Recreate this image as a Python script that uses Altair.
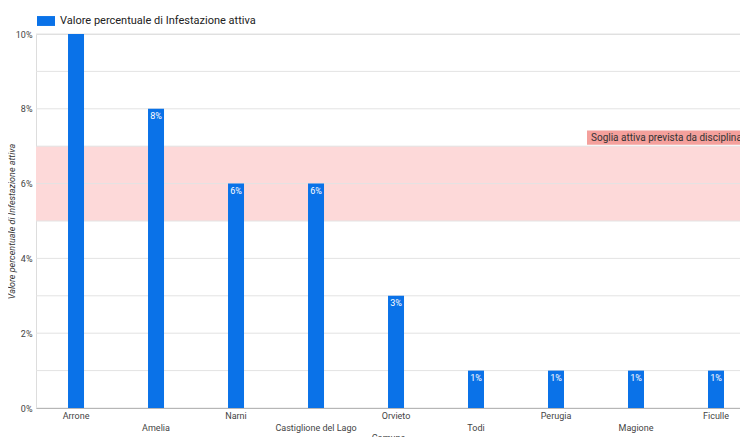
import altair as alt
import pandas as pd

comuni = ["Arrone", "Amelia", "Narni", "Castiglione del Lago", "Orvieto",
          "Todi", "Perugia", "Magione", "Ficulle"]
valori = [10, 8, 6, 6, 3, 1, 1, 1, 1]
etichette = ["10%", "8%", "6%", "6%", "3%", "1%", "1%", "1%", "1%"]
serie = "Valore percentuale di Infestazione attiva"
soglia_min = [5]
soglia_max = [7]
soglia_testo = ["Soglia attiva prevista da disciplinare"]
y_ticks = list(range(0, 11))

df = pd.DataFrame({"Comune": comuni, "valore": valori, "etichetta": etichette,
                   "serie": [serie] * len(comuni)})
band_df = pd.DataFrame({"lo": soglia_min, "hi": soglia_max, "testo": soglia_testo})

FONT = "Roboto"
W, H = 704, 374
stagger = "indexof(['Amelia','Castiglione del Lago','Todi','Magione'], datum.label) >= 0 ? ['', datum.label] : datum.label"

x_enc = alt.X("Comune:N", sort=comuni, title="Comune",
              scale=alt.Scale(paddingInner=0.8, paddingOuter=0.3, align=0.667),
              axis=alt.Axis(labelAngle=0, labelExpr=stagger, labelFont=FONT,
                            labelFontSize=9, labelColor="#444", labelLineHeight=12,
                            labelPadding=3, ticks=False, domainColor="#888",
                            titleFont=FONT, titleFontSize=9, titleFontWeight="normal",
                            titleColor="#444", titlePadding=1))
y_scale = alt.Scale(domain=[0, 10], nice=False)

band = alt.Chart(band_df).mark_rect(color="#fdd9d9").encode(
    y=alt.Y("lo:Q", scale=y_scale), y2="hi:Q",
    x=alt.value(0), x2=alt.value(W))

grid = alt.Chart(pd.DataFrame({"t": y_ticks})).mark_rule(color="#e3e3e3", strokeWidth=1).encode(
    x=alt.value(0), x2=alt.value(W),
    y=alt.Y("t:Q", scale=y_scale,
            axis=alt.Axis(values=y_ticks, labelExpr="datum.value % 2 == 0 ? datum.value + '%' : ''",
                          labelFont=FONT, labelFontSize=9, labelColor="#444", ticks=False,
                          domain=False, grid=False, labelPadding=4,
                          title=serie, titleFont=FONT, titleFontSize=9,
                          titleFontStyle="italic", titleFontWeight="normal",
                          titleColor="#333", titleX=-25, titleY=H / 2,
                          titleAlign="center", titleBaseline="middle", titleAngle=-90)))

bars = alt.Chart(df).mark_bar(size=16).encode(
    x=x_enc,
    y=alt.Y("valore:Q", scale=y_scale),
    color=alt.Color("serie:N", scale=alt.Scale(range=["#0a72e8"]),
                    legend=alt.Legend(title=None, orient="none", legendX=1, legendY=-22,
                                      symbolType="M-1,-0.55H1V0.55H-1Z", symbolSize=324,
                                      symbolStrokeWidth=0, labelFont=FONT, labelFontSize=11,
                                      labelColor="#222", padding=0, labelOffset=5,
                                      labelLimit=400)))

labels = alt.Chart(df).transform_filter("datum.valore < 10").mark_text(
    color="white", font=FONT, fontSize=9, baseline="top", dy=3).encode(
    x=alt.X("Comune:N", sort=comuni), y=alt.Y("valore:Q", scale=y_scale), text="etichetta:N")

label_bg = alt.Chart(band_df).transform_calculate(a="datum.hi + 0.04", b="datum.hi + 0.42").mark_rect(
    color="#f4a09c").encode(
    y=alt.Y("a:Q", scale=y_scale), y2="b:Q", x=alt.value(551), x2=alt.value(W))

label_txt = alt.Chart(band_df).transform_calculate(m="datum.hi + 0.23").mark_text(
    align="left", baseline="middle", font=FONT, fontSize=10, color="#333").encode(
    y=alt.Y("m:Q", scale=y_scale), x=alt.value(555), text="testo:N")

chart = alt.layer(band, grid, bars, labels, label_bg, label_txt).properties(
    width=W, height=H,
    padding={"left": 28, "top": 26, "right": 0, "bottom": 32},
    autosize=alt.AutoSizeParams(type="none"),
).configure_view(stroke=None).configure(background="white")

chart.save("out.html", embed_options={"renderer": "svg", "actions": False})
